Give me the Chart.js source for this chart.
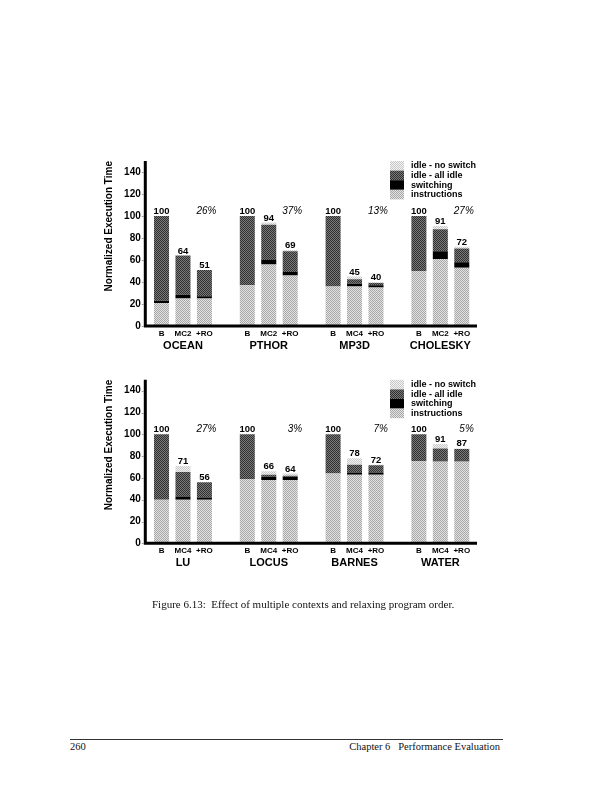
<!DOCTYPE html>
<html>
<head>
<meta charset="utf-8">
<script src="https://cdn.jsdelivr.net/npm/chart.js@4/dist/chart.umd.min.js"></script>
<style>
    body { margin: 0; background: #fff; width: 612px; height: 791px; position: relative; overflow: hidden; }
    canvas { position: absolute; left: 0; }
    #grafico1 { top: 140px; }
    #grafico2 { top: 360px; }
    .legenda { position: absolute; left: 152px; top: 598px; font: 11px "Liberation Serif"; color: #111; white-space: nowrap; }
    .linha { position: absolute; left: 70px; top: 739px; width: 433px; border-top: 1px solid #333; }
    .pag { position: absolute; left: 70px; top: 741px; font: 10.5px "Liberation Serif"; color: #111; }
    .cap { position: absolute; right: 112px; top: 741px; font: 10.5px "Liberation Serif"; color: #111; white-space: pre; }
</style>
</head>
<body>
<canvas id="grafico1" width="500" height="230"></canvas>
<canvas id="grafico2" width="500" height="230"></canvas>
<div class="legenda">Figure 6.13:&nbsp; Effect of multiple contexts and relaxing program order.</div>
<div class="linha"></div>
<div class="pag">260</div>
<div class="cap">Chapter 6   Performance Evaluation</div>

<script>
const yTicks = [0, 20, 40, 60, 80, 100, 120, 140];
const series = ["instructions", "switching", "idle - all idle", "idle - no switch"];

// =====================
// TOP CHART
// =====================
const topBars = ["B","MC2","+RO","", "B","MC2","+RO","", "B","MC4","+RO","", "B","MC2","+RO"];
const topGroups = ["OCEAN", "PTHOR", "MP3D", "CHOLESKY"];
const topPct = ["26%", "37%", "13%", "27%"];
const topTotals = [100, 64, 51, null, 100, 94, 69, null, 100, 45, 40, null, 100, 91, 72];
const topInstr  = [21, 25, 25, null, 37, 56, 46, null, 36, 36, 35, null, 50, 61, 53];
const topSwitch = [2, 3.5, 2, null, 0, 4, 3, null, 0, 2.5, 2, null, 0, 7, 5];
const topIdleAll = [77, 35.5, 24, null, 63, 32, 19, null, 64, 4, 2, null, 50, 20, 12.5];
const topIdleNo  = [0, 0, 0, null, 0, 2, 1, null, 0, 2.5, 1, null, 0, 3, 1.5];

// =====================
// BOTTOM CHART
// =====================
const botBars = ["B","MC4","+RO","", "B","MC4","+RO","", "B","MC4","+RO","", "B","MC4","+RO"];
const botGroups = ["LU", "LOCUS", "BARNES", "WATER"];
const botPct = ["27%", "3%", "7%", "5%"];
const botTotals = [100, 71, 56, null, 100, 66, 64, null, 100, 78, 72, null, 100, 91, 87];
const botInstr  = [40, 40, 40, null, 59, 58, 58, null, 64, 63, 63, null, 75.5, 75, 75];
const botSwitch = [0, 3, 2, null, 0, 3, 3, null, 0, 2, 2, null, 0, 1, 1];
const botIdleAll = [60, 22.5, 14, null, 41, 2, 1, null, 36, 7, 6.5, null, 24.5, 11, 10.5];
const botIdleNo  = [0, 5.5, 0, null, 0, 3, 2, null, 0, 6, 0.5, null, 0, 4, 0.5];

// dithered fills like the scanned print
function padrao(c1, c2) {
    let cv = document.createElement("canvas");
    cv.width = 2; cv.height = 2;
    let g = cv.getContext("2d");
    g.fillStyle = c1; g.fillRect(0, 0, 2, 2);
    g.fillStyle = c2; g.fillRect(0, 0, 1, 1); g.fillRect(1, 1, 1, 1);
    return g.createPattern(cv, "repeat");
}
const FILLS = [
    padrao("#e2e2e2", "#a8a8a8"),
    "#000",
    padrao("#7a7a7a", "#303030"),
    padrao("#f2f2f2", "#c8c8c8")
];

const FONTE = "'Liberation Sans', Arial, sans-serif";

const desenho = {
    id: "desenho",
    afterDatasetsDraw(chart, args, o) {
        let ctx = chart.ctx, a = chart.chartArea;
        let x = chart.scales.x, y = chart.scales.y;
        let eixoX = a.left - 5.5;
        ctx.save();

        // axes
        ctx.strokeStyle = "#000";
        ctx.lineWidth = 3;
        ctx.beginPath();
        ctx.moveTo(eixoX, a.top);
        ctx.lineTo(eixoX, a.bottom);
        ctx.lineTo(a.right + 4.5, a.bottom);
        ctx.stroke();

        // faint tick marks
        ctx.strokeStyle = "#999";
        ctx.lineWidth = 1;
        ctx.beginPath();
        yTicks.forEach(v => {
            let py = Math.round(y.getPixelForValue(v)) + 0.5;
            ctx.moveTo(eixoX - 3.5, py);
            ctx.lineTo(eixoX - 1.5, py);
        });
        ctx.stroke();

        ctx.fillStyle = "#000";

        // totals over bars
        ctx.font = "bold 9.5px " + FONTE;
        ctx.textAlign = "center";
        ctx.textBaseline = "alphabetic";
        o.totals.forEach((t, i) => {
            if (t == null) return;
            ctx.fillText(String(t), x.getPixelForValue(i), y.getPixelForValue(t) - 2);
        });

        // percentages
        ctx.font = "italic 10px " + FONTE;
        ctx.textAlign = "right";
        o.pct.forEach((p, g) => {
            ctx.fillText(p, x.getPixelForValue(g * 4 + 2) + 12, y.getPixelForValue(100) - 2);
        });

        // group names
        ctx.font = "bold 11px " + FONTE;
        ctx.textAlign = "center";
        ctx.textBaseline = "middle";
        o.groups.forEach((n, g) => {
            ctx.fillText(n, x.getPixelForValue(g * 4 + 1), a.bottom + 20);
        });

        // legend, top entry first
        let ds = chart.data.datasets;
        ctx.font = "bold 9px " + FONTE;
        ctx.textAlign = "left";
        for (let k = 0; k < ds.length; k++) {
            let d = ds[ds.length - 1 - k];
            let top = a.top + k * 9.6;
            ctx.fillStyle = d.backgroundColor;
            ctx.fillRect(390, top, 14, 9.6);
            ctx.fillStyle = "#000";
            ctx.fillText(d.label, 411, top + 5);
        }
        ctx.restore();
    }
};

function criarGrafico(id, bars, groups, pct, totals, valores, pad) {
    return new Chart(document.getElementById(id), {
        type: "bar",
        data: {
            labels: bars,
            datasets: valores.map((v, i) => ({
                label: series[i],
                data: v,
                backgroundColor: FILLS[i],
                borderWidth: 0,
                barPercentage: 0.7,
                categoryPercentage: 1
            }))
        },
        options: {
            responsive: false,
            animation: false,
            layout: { padding: pad },
            plugins: {
                legend: { display: false },
                tooltip: { enabled: false },
                desenho: { totals: totals, pct: pct, groups: groups }
            },
            scales: {
                x: {
                    stacked: true,
                    grid: { display: false, drawTicks: false },
                    border: { display: false },
                    ticks: { color: "#000", font: { family: FONTE, size: 8, weight: "bold" }, padding: 3, autoSkip: false, maxRotation: 0 },
                    afterFit: s => { s.height = 20; }
                },
                y: {
                    stacked: true,
                    min: 0,
                    max: 150,
                    grid: { display: false, drawTicks: false },
                    border: { display: false },
                    ticks: { color: "#000", font: { family: FONTE, size: 10, weight: "bold" }, padding: 10 },
                    afterBuildTicks: s => { s.ticks = yTicks.map(v => ({ value: v })); },
                    afterFit: s => { s.width = 51.8; },
                    title: {
                        display: true,
                        text: "Normalized Execution Time",
                        align: "end",
                        color: "#000",
                        font: { family: FONTE, size: 10, weight: "bold" },
                        padding: { top: 4, bottom: 0 }
                    }
                }
            }
        },
        plugins: [desenho]
    });
}

criarGrafico("grafico1", topBars, topGroups, topPct, topTotals,
    [topInstr, topSwitch, topIdleAll, topIdleNo],
    { left: 99, right: 27.5, top: 21, bottom: 24 });

criarGrafico("grafico2", botBars, botGroups, botPct, botTotals,
    [botInstr, botSwitch, botIdleAll, botIdleNo],
    { left: 99, right: 27.5, top: 19.8, bottom: 26.7 });
</script>
</body>
</html>
